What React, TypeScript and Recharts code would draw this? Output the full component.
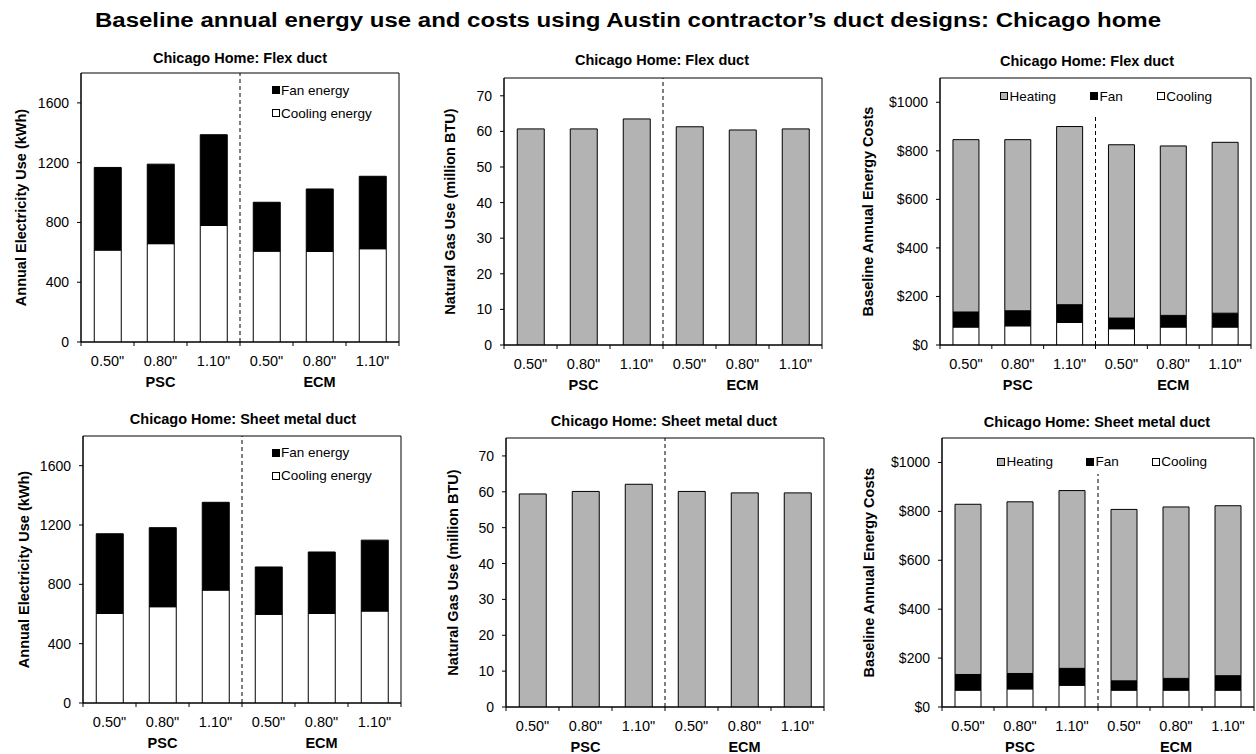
import React from 'react';
import { BarChart, Bar, XAxis, YAxis, ReferenceLine, ReferenceArea, Legend } from 'recharts';

const FONT = '"Liberation Sans", Arial, Helvetica, sans-serif';

// ---------- categories & tick labels ----------
const categoryIds = ['PSC-0.50', 'PSC-0.80', 'PSC-1.10', 'ECM-0.50', 'ECM-0.80', 'ECM-1.10'];
const sizeLabels = ['0.50"', '0.80"', '1.10"', '0.50"', '0.80"', '1.10"'];
const motorLabels = ['PSC', 'PSC', 'PSC', 'ECM', 'ECM', 'ECM'];

const elecTicks = [0, 400, 800, 1200, 1600];
const gasTicks = [0, 10, 20, 30, 40, 50, 60, 70];
const costTicks = [0, 200, 400, 600, 800, 1000];

// ---------- Flex duct ----------
const flexCoolingKWh = [615, 658, 780, 608, 606, 624];
const flexFanKWh = [553, 532, 607, 327, 418, 485];
const flexGasMBtu = [60.7, 60.7, 63.5, 61.3, 60.4, 60.7];
const flexCoolingCost = [74, 79, 93, 67, 74, 74];
const flexFanCost = [62, 62, 73, 44, 48, 57];
const flexHeatingCost = [710, 705, 734, 714, 698, 704];

// ---------- Sheet metal duct ----------
const sheetCoolingKWh = [604, 649, 761, 598, 604, 620];
const sheetFanKWh = [537, 533, 592, 319, 414, 478];
const sheetGasMBtu = [59.4, 60.1, 62.1, 60.1, 59.7, 59.7];
const sheetCoolingCost = [69, 74, 89, 69, 69, 69];
const sheetFanCost = [64, 63, 69, 38, 48, 59];
const sheetHeatingCost = [696, 702, 727, 701, 701, 695];

const GRAY = '#b3b3b3';

type SeriesDef = { key: string; name: string; fill: string; values: number[] };
type PanelDef = {
  box: { left: number; top: number; width: number; height: number };
  plot: { left: number; right: number; top: number; bottom: number };
  title: string;
  titleX: number;
  titleY: number;
  yLabel: string;
  yLabelX: number;
  yMax: number;
  yTicks: number[];
  money?: boolean;
  series: SeriesDef[];
  legend?: { vertical: boolean; left: number; top: number; gap: number };
  dividerTo?: number;
};

const X_AXIS_H = 48;

const groupMiddle = motorLabels.map((m, i) => {
  const idx = motorLabels.map((mm, j) => (mm === m ? j : -1)).filter((j) => j >= 0);
  return idx[Math.floor(idx.length / 2)] === i;
});
// last category of the first group: divider drawn at the end of its band
const dividerCategory = categoryIds[motorLabels.filter((m) => m === motorLabels[0]).length - 1];

function LegendBox(props: any) {
  const { payload, order, vertical, gap } = props;
  const items = [...(payload || [])].sort(
    (a: any, b: any) => order.indexOf(a.value) - order.indexOf(b.value)
  );
  return (
    <div
      style={{
        display: 'flex',
        flexDirection: vertical ? 'column' : 'row',
        fontFamily: FONT,
        fontSize: 13.5,
        color: '#000',
        lineHeight: '23px',
        whiteSpace: 'nowrap',
      }}
    >
      {items.map((it: any, i: number) => (
        <div
          key={i}
          style={{ display: 'flex', alignItems: 'center', marginRight: vertical || i === items.length - 1 ? 0 : gap }}
        >
          <span
            style={{
              display: 'inline-block',
              width: 6,
              height: 6,
              background: it.color,
              border: '1px solid #000',
              marginRight: 1.5,
            }}
          />
          <span>{it.value}</span>
        </div>
      ))}
    </div>
  );
}

function Panel({ def }: { def: PanelDef }) {
  const { box, plot } = def;
  const data = categoryIds.map((id, i) => {
    const row: Record<string, any> = { id, size: sizeLabels[i], motor: motorLabels[i] };
    def.series.forEach((s) => {
      row[s.key] = s.values[i];
    });
    return row;
  });
  const band = (plot.right - plot.left) / categoryIds.length;
  const margin = {
    top: plot.top - box.top,
    right: box.left + box.width - plot.right,
    bottom: box.top + box.height - plot.bottom - X_AXIS_H,
    left: 0,
  };
  const yAxisWidth = plot.left - box.left;
  const labelOffset = def.yLabelX - box.left;

  const renderTick = (p: any) => {
    const i = p.index;
    const x = p.x;
    const y = p.y;
    return (
      <g>
        <line x1={x - band / 2} x2={x - band / 2} y1={y} y2={y + 4} stroke="#000" strokeWidth={1} />
        {i === categoryIds.length - 1 && (
          <line x1={x + band / 2} x2={x + band / 2} y1={y} y2={y + 4} stroke="#000" strokeWidth={1} />
        )}
        <text x={x} y={y + 24} textAnchor="middle" fill="#000" fontSize={14.5} fontFamily={FONT}>
          {sizeLabels[i]}
        </text>
        {groupMiddle[i] && (
          <text x={x} y={y + 45} textAnchor="middle" fill="#000" fontSize={14.5} fontWeight="bold" fontFamily={FONT}>
            {motorLabels[i]}
          </text>
        )}
      </g>
    );
  };

  const renderYLabel = (p: any) => {
    const vb = p.viewBox || {};
    const cx = (vb.x ?? 0) + labelOffset;
    const cy = (vb.y ?? 0) + (vb.height ?? 0) / 2;
    return (
      <text
        x={cx}
        y={cy}
        transform={`rotate(-90 ${cx} ${cy})`}
        textAnchor="middle"
        dominantBaseline="central"
        fill="#000"
        fontSize={14.5}
        fontWeight="bold"
        fontFamily={FONT}
      >
        {def.yLabel}
      </text>
    );
  };

  const legendOrder = def.series.map((s) => s.name).reverse();

  return (
    <div style={{ position: 'absolute', left: box.left, top: box.top, width: box.width, height: box.height }}>
      <div
        style={{
          position: 'absolute',
          left: def.titleX - box.left - 200,
          top: def.titleY - box.top - 9,
          width: 400,
          textAlign: 'center',
          fontFamily: FONT,
          fontWeight: 'bold',
          fontSize: 14.5,
          lineHeight: '18px',
          color: '#000',
          whiteSpace: 'nowrap',
          zIndex: 2,
        }}
      >
        {def.title}
      </div>
      <BarChart width={box.width} height={box.height} data={data} margin={margin} barCategoryGap="25%">
        <XAxis
          xAxisId="cat"
          dataKey="id"
          type="category"
          height={X_AXIS_H}
          interval={0}
          tickSize={0}
          tickMargin={0}
          tickLine={false}
          axisLine={{ stroke: '#000', strokeWidth: 1 }}
          tick={renderTick}
        />
        <YAxis
          type="number"
          domain={[0, def.yMax]}
          ticks={def.yTicks}
          interval={0}
          allowDataOverflow
          width={yAxisWidth}
          tickSize={4}
          tickMargin={8}
          axisLine={{ stroke: '#000', strokeWidth: 1 }}
          tickLine={{ stroke: '#000', strokeWidth: 1 }}
          tick={{ fill: '#000', fontSize: 14, fontFamily: FONT }}
          tickFormatter={def.money ? (v: number) => `$${v}` : undefined}
          label={{ content: renderYLabel }}
        />
        {def.series.map((s) => (
          <Bar
            key={s.key}
            xAxisId="cat"
            dataKey={s.key}
            name={s.name}
            stackId="stack"
            fill={s.fill}
            stroke="#000"
            strokeWidth={1}
            isAnimationActive={false}
          />
        ))}
        <ReferenceArea
          xAxisId="cat"
          x1={categoryIds[0]}
          x2={categoryIds[categoryIds.length - 1]}
          y1={0}
          y2={def.yMax}
          fill="none"
          fillOpacity={0}
          stroke="#000"
          strokeWidth={1}
        />
        {def.dividerTo !== undefined ? (
          <ReferenceLine
            xAxisId="cat"
            position="end"
            segment={[
              { x: dividerCategory, y: 0 },
              { x: dividerCategory, y: def.dividerTo },
            ]}
            stroke="#000"
            strokeWidth={1}
            strokeDasharray="4 3"
          />
        ) : (
          <ReferenceLine
            xAxisId="cat"
            x={dividerCategory}
            position="end"
            stroke="#000"
            strokeWidth={1}
            strokeDasharray="4 3"
          />
        )}
        {def.legend && (
          <Legend
            layout={def.legend.vertical ? 'vertical' : 'horizontal'}
            align="center"
            verticalAlign="middle"
            wrapperStyle={{
              left: def.legend.left - box.left,
              top: def.legend.top - box.top,
              width: 'auto',
              height: 'auto',
            }}
            content={(p: any) => (
              <LegendBox {...p} order={legendOrder} vertical={def.legend!.vertical} gap={def.legend!.gap} />
            )}
          />
        )}
      </BarChart>
    </div>
  );
}

const elecSeries = (cooling: number[], fan: number[]): SeriesDef[] => [
  { key: 'cooling', name: 'Cooling energy', fill: '#ffffff', values: cooling },
  { key: 'fan', name: 'Fan energy', fill: '#000000', values: fan },
];
const gasSeries = (gas: number[]): SeriesDef[] => [{ key: 'gas', name: 'Natural gas', fill: GRAY, values: gas }];
const costSeries = (cooling: number[], fan: number[], heating: number[]): SeriesDef[] => [
  { key: 'cooling', name: 'Cooling', fill: '#ffffff', values: cooling },
  { key: 'fan', name: 'Fan', fill: '#000000', values: fan },
  { key: 'heating', name: 'Heating', fill: GRAY, values: heating },
];

const panels: PanelDef[] = [
  {
    box: { left: 0, top: 40, width: 415, height: 355 },
    plot: { left: 81, right: 399, top: 73, bottom: 342 },
    title: 'Chicago Home: Flex duct',
    titleX: 240,
    titleY: 58,
    yLabel: 'Annual Electricity Use (kWh)',
    yLabelX: 21,
    yMax: 1800,
    yTicks: elecTicks,
    series: elecSeries(flexCoolingKWh, flexFanKWh),
    legend: { vertical: true, left: 271.5, top: 78.5, gap: 0 },
  },
  {
    box: { left: 415, top: 40, width: 420, height: 355 },
    plot: { left: 504, right: 822, top: 78, bottom: 345 },
    title: 'Chicago Home: Flex duct',
    titleX: 662,
    titleY: 60,
    yLabel: 'Natural Gas Use (million BTU)',
    yLabelX: 450,
    yMax: 75,
    yTicks: gasTicks,
    series: gasSeries(flexGasMBtu),
  },
  {
    box: { left: 835, top: 40, width: 421, height: 355 },
    plot: { left: 940, right: 1251, top: 78, bottom: 345 },
    title: 'Chicago Home: Flex duct',
    titleX: 1087,
    titleY: 61,
    yLabel: 'Baseline Annual Energy Costs',
    yLabelX: 868,
    yMax: 1100,
    yTicks: costTicks,
    money: true,
    series: costSeries(flexCoolingCost, flexFanCost, flexHeatingCost),
    legend: { vertical: false, left: 1000, top: 84.5, gap: 34 },
    dividerTo: 940,
  },
  {
    box: { left: 0, top: 395, width: 415, height: 359 },
    plot: { left: 83, right: 401, top: 436, bottom: 703 },
    title: 'Chicago Home: Sheet metal duct',
    titleX: 243,
    titleY: 419,
    yLabel: 'Annual Electricity Use (kWh)',
    yLabelX: 24,
    yMax: 1800,
    yTicks: elecTicks,
    series: elecSeries(sheetCoolingKWh, sheetFanKWh),
    legend: { vertical: true, left: 271.5, top: 441, gap: 0 },
  },
  {
    box: { left: 415, top: 395, width: 420, height: 359 },
    plot: { left: 506, right: 824, top: 438, bottom: 707 },
    title: 'Chicago Home: Sheet metal duct',
    titleX: 664,
    titleY: 421,
    yLabel: 'Natural Gas Use (million BTU)',
    yLabelX: 453,
    yMax: 75,
    yTicks: gasTicks,
    series: gasSeries(sheetGasMBtu),
  },
  {
    box: { left: 835, top: 395, width: 421, height: 359 },
    plot: { left: 942, right: 1254, top: 438, bottom: 707 },
    title: 'Chicago Home: Sheet metal duct',
    titleX: 1097,
    titleY: 422,
    yLabel: 'Baseline Annual Energy Costs',
    yLabelX: 869,
    yMax: 1100,
    yTicks: costTicks,
    money: true,
    series: costSeries(sheetCoolingCost, sheetFanCost, sheetHeatingCost),
    legend: { vertical: false, left: 997, top: 450, gap: 33 },
    dividerTo: 953,
  },
];

export default function App() {
  return (
    <div
      style={{
        position: 'absolute',
        left: 0,
        top: 0,
        width: 1256,
        height: 754,
        background: '#fff',
        overflow: 'hidden',
        fontFamily: FONT,
      }}
    >
      <div
        style={{
          position: 'absolute',
          left: 0,
          top: 8,
          width: 1256,
          textAlign: 'center',
          fontSize: 20,
          fontWeight: 'bold',
          lineHeight: '24px',
          color: '#000',
          whiteSpace: 'nowrap',
          transform: 'scaleX(1.2)',
          transformOrigin: '628px 50%',
        }}
      >
        Baseline annual energy use and costs using Austin contractor’s duct designs: Chicago home
      </div>
      {panels.map((p, i) => (
        <Panel key={i} def={p} />
      ))}
    </div>
  );
}
